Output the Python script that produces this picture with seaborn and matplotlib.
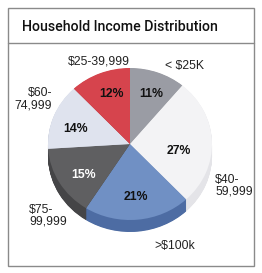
import matplotlib
matplotlib.use("Agg")
import matplotlib.pyplot as plt
import seaborn as sns
from matplotlib.patches import Rectangle
from matplotlib.lines import Line2D

sns.set_theme(style="white")
plt.rcParams['font.family'] = ['Liberation Sans', 'DejaVu Sans']

# ---- data ----
title = "Household Income Distribution"
categories = ["< $25K", "$40-\n59,999", ">$100k", "$75-\n99,999", "$60-\n74,999", "$25-39,999"]
values = [11, 27, 21, 15, 14, 12]
pct_labels = ["11%", "27%", "21%", "15%", "14%", "12%"]

top_colors = ["#9a9ca4", "#f3f3f5", "#7090c4", "#5f5f61", "#dfe3ee", "#d6444d"]
side_colors = ["#7d7f86", "#e4e4e8", "#4d6ca3", "#454547", "#c4c9d6", "#a8343b"]
pct_colors = ["#111111", "#111111", "#111111", "#ffffff", "#111111", "#111111"]

# layout (pixel positions)
W, H = 262, 273
cx, cy = 130, 144
rx, ry = 82, 76
depth = 12
k = rx / ry  # y data-units per pixel
pct_pos = [(151, 94), (179, 151), (136, 197), (84, 175), (76, 129), (112, 94)]
cat_pos = [(165, 66, 'left'), (215, 186, 'left'), (154, 246, 'left'),
           (29, 216, 'left'), (52, 99, 'right'), (68, 62, 'left')]

fig = plt.figure(figsize=(W / 100, H / 100), dpi=100)
fig.patch.set_facecolor("white")
ax = fig.add_axes([0, 0, 1, 1])

def py(p):
    return (H - p) * k

# 3D sides: stacked layers
n_layers = 24
for i in range(n_layers, 0, -1):
    d = depth * i / n_layers
    ax.pie(values, colors=side_colors, startangle=90, counterclock=False,
           radius=rx, center=(cx, py(cy + d)), frame=True,
           wedgeprops=dict(linewidth=0))
# top surface
ax.pie(values, colors=top_colors, startangle=90, counterclock=False,
       radius=rx, center=(cx, py(cy)), frame=True,
       wedgeprops=dict(linewidth=0))

ax.set_aspect('auto')
ax.set_xlim(0, W)
ax.set_ylim(0, H * k)
ax.set_axis_off()

# percentage labels
for (x, y), t, c in zip(pct_pos, pct_labels, pct_colors):
    ax.text(x, py(y), t, ha='center', va='center', fontsize=8.8,
            fontweight='bold', color=c)

# category labels
for (x, y, ha), t in zip(cat_pos, categories):
    ax.text(x, py(y), t, ha=ha, va='center', fontsize=8.8, color="#222222",
            linespacing=1.0)

# frame and title
fig.add_artist(Rectangle((8 / W, 1 - 266 / H), 246 / W, 258 / H,
                         transform=fig.transFigure, fill=False,
                         edgecolor="#8a8a8a", linewidth=1))
fig.add_artist(Line2D([8 / W, 254 / W], [1 - 43 / H, 1 - 43 / H],
                      transform=fig.transFigure, color="#8a8a8a", linewidth=1))

t = fig.text(22 / W, 1 - 27 / H, title, ha='left', va='center', fontsize=14,
             color="#111111", family=['Roboto', 'DejaVu Sans'], fontweight='medium')
fig.canvas.draw()
w = t.get_window_extent().width
t.set_fontsize(14 * 196 / w)

fig.savefig("out.png", dpi=100, facecolor="white")
